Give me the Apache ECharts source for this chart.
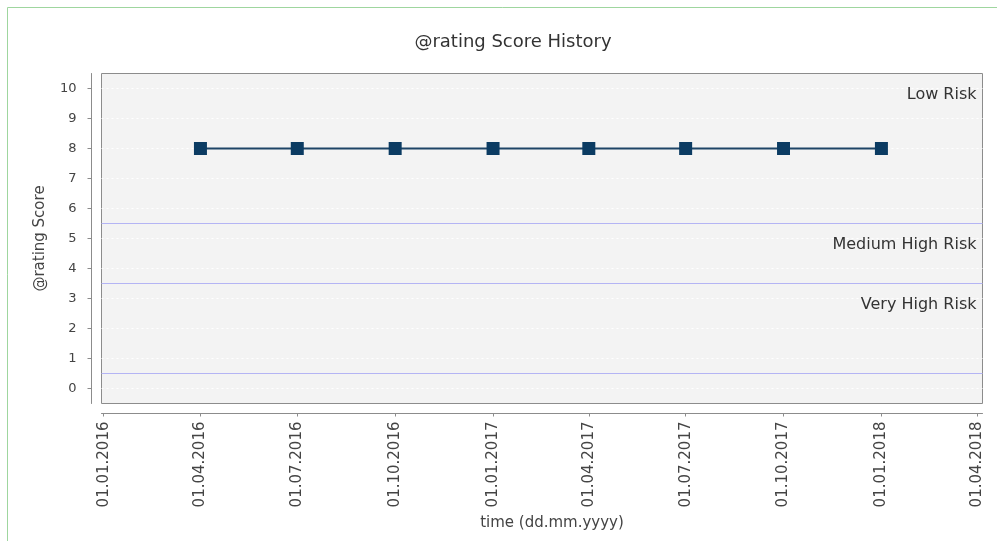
<!DOCTYPE html>
<html>
<head>
<meta charset="utf-8">
<script src="https://cdn.jsdelivr.net/npm/echarts@6/dist/echarts.min.js"></script>
<style>html,body{margin:0;padding:0;background:#fff}#c{width:997px;height:541px}</style>
</head>
<body>
<div id="c"></div>
<script>
// ---- data ----
const pointDates = ['2016-04-01','2016-07-01','2016-10-01','2017-01-01','2017-04-01','2017-07-01','2017-10-01','2018-01-01'];
const scores = [8, 8, 8, 8, 8, 8, 8, 8];
const xTickDates = ['2016-01-01','2016-04-01','2016-07-01','2016-10-01','2017-01-01','2017-04-01','2017-07-01','2017-10-01','2018-01-01','2018-04-01'];
const yTicks = [0, 1, 2, 3, 4, 5, 6, 7, 8, 9, 10];
const thresholds = [5.5, 3.5, 0.5];
const bandNames = ['Low Risk', 'Medium High Risk', 'Very High Risk'];
const bandTop = [10.5, 5.5, 3.5];
const xMinDate = '2015-12-30';
const xMaxDate = '2018-04-06';

// ---- helpers ----
function ts(s) { const p = s.split('-').map(Number); return new Date(p[0], p[1] - 1, p[2]).getTime(); }
function pad(n) { return (n < 10 ? '0' : '') + n; }
function fmt(v) { const d = new Date(v); return pad(d.getDate()) + '.' + pad(d.getMonth() + 1) + '.' + d.getFullYear(); }

const FONT = 'DejaVu Sans';
const chart = echarts.init(document.getElementById('c'), null, { renderer: 'canvas' });

chart.setOption({
  backgroundColor: '#ffffff',
  animation: false,
  title: {
    text: '@rating Score History',
    left: 508, top: 28, textAlign: 'center',
    textStyle: { fontFamily: FONT, fontSize: 18, fontWeight: 'normal', color: '#333' }
  },
  graphic: [{
    type: 'rect', silent: true, z: 100,
    shape: { x: 7.5, y: 7.5, width: 1200, height: 1200 },
    style: { fill: null, stroke: '#9fd69f', lineWidth: 1 }
  }],
  grid: {
    left: 101.5, top: 73.5, width: 881, height: 330,
    show: true, backgroundColor: '#f3f3f3', borderColor: '#8c8c8c', borderWidth: 1
  },
  xAxis: {
    type: 'value',
    min: ts(xMinDate), max: ts(xMaxDate),
    offset: 10,
    name: 'time (dd.mm.yyyy)', nameLocation: 'middle', nameGap: 99,
    nameTextStyle: { fontFamily: FONT, fontSize: 15, color: '#444', padding: [0, 0, 0, 20] },
    axisLine: { show: true, onZero: false, lineStyle: { color: '#8c8c8c', width: 1 } },
    axisTick: { show: true, length: 3, lineStyle: { color: '#8c8c8c' }, customValues: xTickDates.map(ts) },
    axisLabel: {
      rotate: 90, margin: 8, fontFamily: FONT, fontSize: 15, color: '#444',
      customValues: xTickDates.map(ts), formatter: fmt, hideOverlap: false, showMinLabel: true, showMaxLabel: true
    },
    splitLine: { show: false }
  },
  yAxis: {
    type: 'value',
    min: -0.5, max: 10.5,
    offset: 10,
    name: '@rating Score', nameLocation: 'middle', nameGap: 44,
    nameTextStyle: { fontFamily: FONT, fontSize: 15, color: '#444' },
    axisLine: { show: true, onZero: false, lineStyle: { color: '#8c8c8c', width: 1 } },
    axisTick: { show: true, length: 4, lineStyle: { color: '#8c8c8c' }, customValues: yTicks },
    axisLabel: { margin: 15, fontFamily: FONT, fontSize: 13, color: '#444', customValues: yTicks },
    splitLine: { show: true, lineStyle: { color: '#ffffff', type: [2, 3], width: 1 } }
  },
  series: [{
    type: 'line',
    name: 'thresholds',
    data: [],
    silent: true,
    markLine: {
      silent: true, symbol: 'none', animation: false,
      label: { show: false },
      lineStyle: { color: '#b4b4f4', width: 1, type: 'solid', opacity: 1 },
      emphasis: { disabled: true },
      data: thresholds.map(v => ({ yAxis: v }))
    }
  }, {
    type: 'line',
    name: 'bands',
    data: [],
    silent: true,
    markLine: {
      silent: true, symbol: 'none', animation: false,
      lineStyle: { color: 'rgba(255,255,255,0)', width: 1 },
      emphasis: { disabled: true },
      label: {
        show: true, position: 'insideEndBottom', formatter: '{b}', distance: [6, 13],
        fontFamily: FONT, fontSize: 16, color: '#333'
      },
      data: bandNames.map((n, i) => ({ yAxis: bandTop[i], name: n }))
    }
  }, {
    type: 'line',
    name: '@rating Score',
    data: pointDates.map((d, i) => [ts(d), scores[i]]),
    symbol: 'rect', symbolSize: 13,
    itemStyle: { color: '#0b3b62' },
    lineStyle: { color: '#1d4466', width: 2 },
    z: 5
  }]
});
</script>
</body>
</html>
